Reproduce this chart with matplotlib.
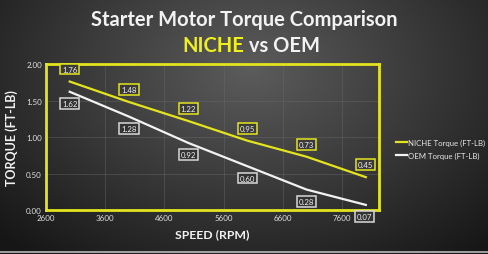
import numpy as np
import matplotlib
matplotlib.use('Agg')
from matplotlib import pyplot as plt

plt.rcParams['font.family'] = ['Lato', 'DejaVu Sans']

# data
speed = [3000, 4000, 5000, 6000, 7000, 8000]
niche = [1.76, 1.48, 1.22, 0.95, 0.73, 0.45]
oem = [1.62, 1.28, 0.92, 0.60, 0.28, 0.07]
xticks = [2600, 3600, 4600, 5600, 6600, 7600]
yticks = [0.0, 0.5, 1.0, 1.5, 2.0]

yellow = '#e4e41e'
white = '#f2f2f2'

fig = plt.figure(figsize=(4.88, 2.55), dpi=100)

# radial gradient background
bg = fig.add_axes([0, 0, 1, 1], zorder=-10)
yy, xx = np.mgrid[0:255, 0:488]
r = np.sqrt(((xx - 250) / 330.0) ** 2 + ((yy - 70) / 230.0) ** 2)
v = np.clip(0.36 - 0.26 * r, 0.09, 0.4)
bg.imshow(np.dstack([v, v, v]), aspect='auto', extent=[0, 1, 0, 1])
bg.axhline(0.006, color='#b8b8b8', lw=1.2)
bg.set_axis_off()

ax = fig.add_axes([0.0943, 0.1725, 0.682, 0.5725])
ax.patch.set_alpha(0)
ax.plot(speed, niche, color=yellow, lw=1.6, label='NICHE Torque (FT-LB)', zorder=3)
ax.plot(speed, oem, color=white, lw=1.6, label='OEM Torque (FT-LB)', zorder=3)

for x, y in zip(speed, niche):
    ax.annotate(f'{y:.2f}', (x, y), xytext=(0, 9), textcoords='offset points',
                ha='center', va='center', fontsize=5.6, color=white,
                bbox=dict(boxstyle='square,pad=0.25', fc='#3a3a3a', ec=yellow, lw=1.1), zorder=4)
for x, y in zip(speed, oem):
    ax.annotate(f'{y:.2f}', (x, y), xytext=(-1 if x == speed[-1] else 0, -8.5),
                textcoords='offset points',
                ha='center', va='center', fontsize=5.6, color=white,
                bbox=dict(boxstyle='square,pad=0.25', fc='#333333', ec='#d8d8d8', lw=1.1), zorder=4)

ax.set_xlim(2600, 8220)
ax.set_ylim(0, 2.0)
ax.set_xticks(xticks)
ax.set_yticks(yticks)
ax.set_yticklabels([f'{t:.2f}' for t in yticks])
ax.tick_params(colors='#e0e0e0', labelsize=5.8, length=0, pad=3)
ax.grid(True, color='#6a6a6a', lw=0.5, alpha=0.6)
for s in ax.spines.values():
    s.set_color(yellow)
    s.set_linewidth(2)

ax.set_xlabel('SPEED (RPM)', color=white, fontsize=8.8, fontweight='bold', labelpad=5)
ax.set_ylabel('TORQUE (FT-LB)', color=white, fontsize=9, fontweight='bold', labelpad=6)

leg = ax.legend(loc='center left', bbox_to_anchor=(1.03, 0.42), frameon=False,
                fontsize=5.6, handlelength=1.5, handletextpad=0.1, labelspacing=0.75)
for t in leg.get_texts():
    t.set_color('#e8e8e8')

fig.text(0.5, 0.92, 'Starter Motor Torque Comparison', ha='center', va='center',
         color=white, fontsize=14.5, fontweight='bold')
fig.text(0.5, 0.82, 'NICHE', ha='right', va='center', color='#f0f020',
         fontsize=14.5, fontweight='bold')
fig.text(0.5, 0.82, ' vs OEM', ha='left', va='center', color=white,
         fontsize=14.5, fontweight='bold')

fig.savefig('out.png', dpi=100)
